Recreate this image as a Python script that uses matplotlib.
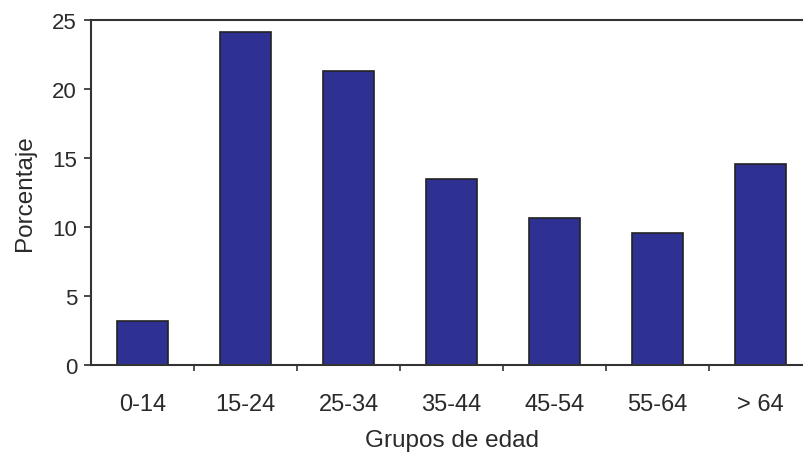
import numpy as np
import matplotlib.pyplot as plt
from matplotlib.ticker import FixedLocator

plt.rcParams['font.family'] = ['Liberation Sans', 'DejaVu Sans']

grupos = ['0-14', '15-24', '25-34', '35-44', '45-54', '55-64', '> 64']
porcentaje = [3.2, 24.1, 21.3, 13.5, 10.65, 9.6, 14.6]

fig = plt.figure(figsize=(8.04, 4.56), dpi=100)
ax = fig.add_axes([0.1132, 0.1974, 0.8968, 0.7565])

x = np.arange(len(grupos))
ax.bar(x, porcentaje, width=0.5, color='#2E3192', edgecolor='#222222', linewidth=1.2)

ax.set_xlim(-0.5, len(grupos) - 0.5)
ax.set_ylim(0, 25)
ax.set_yticks([0, 5, 10, 15, 20, 25])
ax.set_xticks(x)
ax.set_xticklabels(grupos)
ax.xaxis.set_minor_locator(FixedLocator(x[:-1] + 0.5))

ax.tick_params(axis='x', which='major', length=0, pad=20, labelsize=17, colors='#2a2a2a')
ax.tick_params(axis='x', which='minor', length=4, width=1.2, color='#333333')
ax.tick_params(axis='y', length=5, width=1.2, pad=5, labelsize=16, colors='#2a2a2a')

for s in ax.spines.values():
    s.set_linewidth(1.5)
    s.set_color('#333333')

ax.set_xlabel('Grupos de edad', fontsize=17.5, color='#2a2a2a', labelpad=10)
ax.set_ylabel('Porcentaje', fontsize=17.5, color='#2a2a2a', labelpad=12)

fig.savefig('out.png', dpi=100)
